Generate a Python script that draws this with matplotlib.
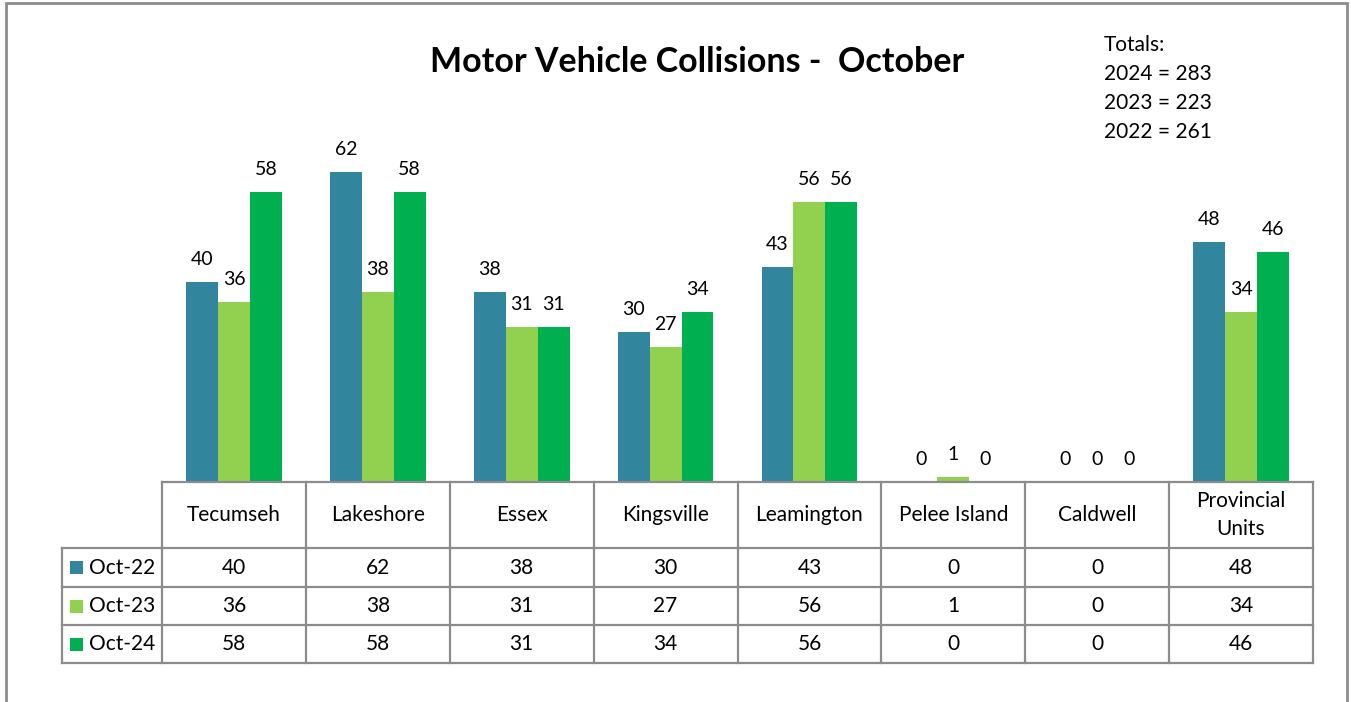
import numpy as np
import matplotlib
matplotlib.use("Agg")
import matplotlib.pyplot as plt
from matplotlib.patches import Rectangle
from matplotlib.transforms import blended_transform_factory

plt.rcParams['font.family'] = ['Lato', 'DejaVu Sans']

areas = ["Tecumseh", "Lakeshore", "Essex", "Kingsville", "Leamington",
         "Pelee Island", "Caldwell", "Provincial\nUnits"]
series_names = ["Oct-22", "Oct-23", "Oct-24"]
oct22 = [40, 62, 38, 30, 43, 0, 0, 48]
oct23 = [36, 38, 31, 27, 56, 1, 0, 34]
oct24 = [58, 58, 31, 34, 56, 0, 0, 46]
colors = ["#31859C", "#92D050", "#00B050"]
totals = ["Totals:", "2024 = 283", "2023 = 223", "2022 = 261"]

W, H = 1351, 702
fig = plt.figure(figsize=(W / 100, H / 100), dpi=100)
ax = fig.add_axes([162 / W, (H - 482) / H, 1151 / W, 350 / H])

x = np.arange(len(areas))
bw = 0.222
for k, vals in enumerate([oct22, oct23, oct24]):
    pos = x + (k - 1) * bw
    ax.bar(pos, vals, width=bw, color=colors[k], zorder=2)
    for p, v in zip(pos, vals):
        ax.annotate(str(v), (p, v), xytext=(0, 10), textcoords="offset points",
                    ha="center", va="bottom", fontsize=14)

ax.set_xlim(-0.5, len(areas) - 0.5)
ax.set_ylim(0, 70)
ax.axis("off")

# data table under the chart
tr = blended_transform_factory(ax.transData, ax.transAxes)
px = 1 / 350
row_edges = [0, -66 * px, -105 * px, -143 * px, -181 * px]
lc = "#8c8c8c"
lw = 1.6
left_leg = -0.5 - 100 / 143.9
right = len(areas) - 0.5

ax.plot([-0.5, right], [0, 0], color=lc, lw=lw, transform=tr, clip_on=False)
for yv in row_edges[1:]:
    ax.plot([left_leg, right], [yv, yv], color=lc, lw=lw, transform=tr, clip_on=False)
for xv in np.arange(-0.5, right + 1, 1):
    ax.plot([xv, xv], [0, row_edges[-1]], color=lc, lw=lw, transform=tr, clip_on=False)
ax.plot([left_leg, left_leg], [row_edges[1], row_edges[-1]], color=lc, lw=lw,
        transform=tr, clip_on=False)

for i, name in enumerate(areas):
    ax.text(i, (row_edges[0] + row_edges[1]) / 2, name, ha="center", va="center",
            fontsize=15, transform=tr, linespacing=1.45)

for r, (name, vals) in enumerate(zip(series_names, [oct22, oct23, oct24])):
    yc = (row_edges[r + 1] + row_edges[r + 2]) / 2
    for i, v in enumerate(vals):
        ax.text(i, yc, str(v), ha="center", va="center", fontsize=15, transform=tr)
    sq = 13 / 143.9
    ax.add_patch(Rectangle((left_leg + 8 / 143.9, yc - 6.5 * px), sq, 13 * px,
                           facecolor=colors[r], edgecolor="none", transform=tr,
                           clip_on=False))
    ax.text(left_leg + 27 / 143.9, yc, name, ha="left", va="center",
            fontsize=15, transform=tr)

fig.text(697 / W, 1 - 62 / H, "Motor Vehicle Collisions -  October", ha="center",
         va="center", fontsize=24.5, fontweight="bold")
for j, t in enumerate(totals):
    fig.text(1104 / W, 1 - (45 + 29 * j) / H, t, ha="left", va="center", fontsize=15)

fig.add_artist(Rectangle((6 / W, -0.05), (1347 - 6) / W, 1.05 - 3 / H,
                         transform=fig.transFigure, facecolor="none",
                         edgecolor="#8c8c8c", lw=2))

fig.savefig("out.png", dpi=100)
